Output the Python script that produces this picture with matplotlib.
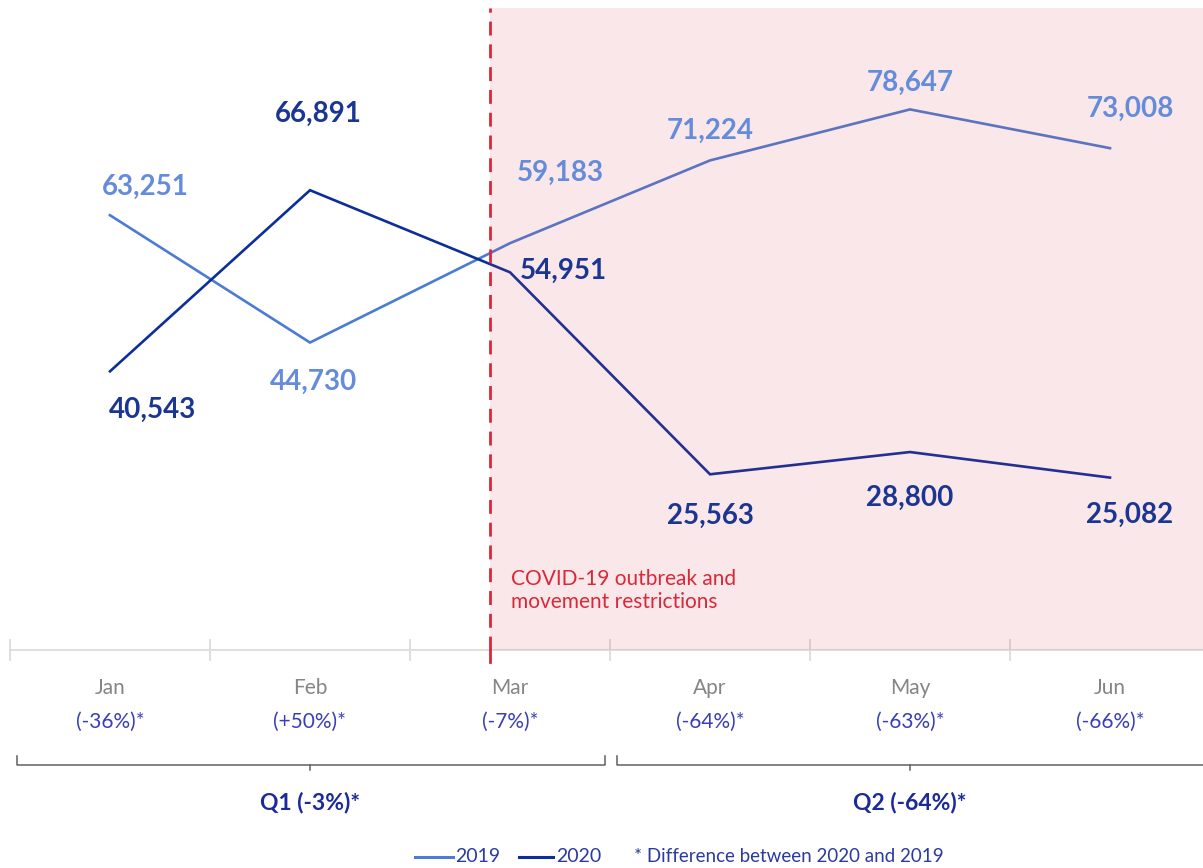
import matplotlib
matplotlib.use("Agg")
import matplotlib.pyplot as plt
from matplotlib.lines import Line2D
import matplotlib.transforms as mtransforms

plt.rcParams['font.family'] = ['Lato', 'DejaVu Sans']

# ---- data ----
months = ["Jan", "Feb", "Mar", "Apr", "May", "Jun"]
pct_changes = ["(-36%)*", "(+50%)*", "(-7%)*", "(-64%)*", "(-63%)*", "(-66%)*"]
values_2019 = [63251, 44730, 59183, 71224, 78647, 73008]
values_2020 = [40543, 66891, 54951, 25563, 28800, 25082]
quarters = ["Q1 (-3%)*", "Q2 (-64%)*"]
quarter_months = [(0, 2), (3, 5)]
series_names = ["2019", "2020"]
note = "* Difference between 2020 and 2019"
covid_note = "COVID-19 outbreak and\nmovement restrictions"

# ---- style ----
c19_line = "#4A7CD2"
c19_text = "#648CDA"
c20_line = "#0B2E9C"
c20_text = "#1B3592"
pct_color = "#3B3FB5"
red = "#D9283A"
off19 = [(35, 28), (4, -39), (50, 70), (0, 30), (0, 27), (20, 39)]
off20 = [(43, -39), (8, 76), (53, 1), (0, -42), (0, -46), (20, -37)]
covid_x = 1.9

W, H = 1203, 868
fig = plt.figure(figsize=(W / 100, H / 100), dpi=100)
ax = fig.add_axes([10 / W, (H - 650) / H, 1200 / W, 642 / H])

x = list(range(len(months)))
ax.plot(x, values_2019, color=c19_line, lw=1.9, zorder=2, solid_joinstyle='miter')
ax.plot(x, values_2020, color=c20_line, lw=1.9, zorder=2, solid_joinstyle='miter')

ax.axvspan(covid_x, 5.5, color="#DC3C4B", alpha=0.12, lw=0, zorder=3)
bt = mtransforms.blended_transform_factory(ax.transData, ax.transAxes)
ax.plot([covid_x, covid_x], [0, 1], transform=bt,
        color=red, lw=2.0, dashes=(5, 3.2), zorder=4, clip_on=False)
ax.plot([covid_x, covid_x], [-0.018, 0], transform=bt,
        color=red, lw=2.0, zorder=4, clip_on=False)

for i, v in enumerate(values_2019):
    ax.annotate(f"{v:,}", (i, v), xytext=off19[i], textcoords="offset pixels",
                ha="center", va="center", fontsize=20, fontweight="bold", color=c19_text, zorder=5)
for i, v in enumerate(values_2020):
    ax.annotate(f"{v:,}", (i, v), xytext=off20[i], textcoords="offset pixels",
                ha="center", va="center", fontsize=20, fontweight="bold", color=c20_text, zorder=5)

ax.text(covid_x + 0.105, 0.093, covid_note, transform=bt,
        color=red, fontsize=15, ha="left", va="center", linespacing=1.2, zorder=5)

ax.set_xlim(-0.5, 5.5)
ax.set_ylim(0, 93400)
for s in ["top", "right", "left"]:
    ax.spines[s].set_visible(False)
ax.spines["bottom"].set_color("#D9D9D9")
ax.spines["bottom"].set_linewidth(1.2)
ax.set_yticks([])
ax.set_xticks([i - 0.5 for i in range(len(months) + 1)])
ax.set_xticklabels([])
ax.tick_params(axis="x", direction="inout", length=16, width=1.2, color="#D9D9D9")

for i, m in enumerate(months):
    ax.text(i, -0.0595, m, transform=bt, ha="center", va="center", fontsize=15,
            color="#858585")
    ax.text(i, -0.1125, pct_changes[i], transform=bt, ha="center", va="center", fontsize=15,
            color=pct_color)

# quarter brackets
yb = -0.179
for (a, b), q in zip(quarter_months, quarters):
    x0 = a - 0.465
    x1 = min(b + 0.475, 5.5)
    ax.add_line(Line2D([x0, x0, x1, x1], [yb + 0.014, yb, yb, yb + 0.014], transform=bt,
                       color="#606060", lw=1.1, clip_on=False))
    mid = (a + b) / 2
    ax.add_line(Line2D([mid, mid], [yb, yb - 0.008], transform=bt, color="#606060", lw=1.1, clip_on=False))
    ax.text(mid, -0.238, q, transform=bt, ha="center", va="center", fontsize=16.5,
            fontweight="bold", color="#1A2A9A")

# legend
ly = (H - 857) / H
fig.add_artist(Line2D([415 / W, 453 / W], [ly, ly], color=c19_line, lw=2.2))
fig.text(455 / W, ly, series_names[0], color="#2A3AA0", fontsize=14, va="center", ha="left")
fig.add_artist(Line2D([519 / W, 553 / W], [ly, ly], color=c20_line, lw=2.2))
fig.text(556 / W, ly, series_names[1], color="#2A3AA0", fontsize=14, va="center", ha="left")
fig.text(634 / W, ly, note, color="#2A3AA0", fontsize=13.5, va="center", ha="left")

fig.savefig("out.png", dpi=100)
